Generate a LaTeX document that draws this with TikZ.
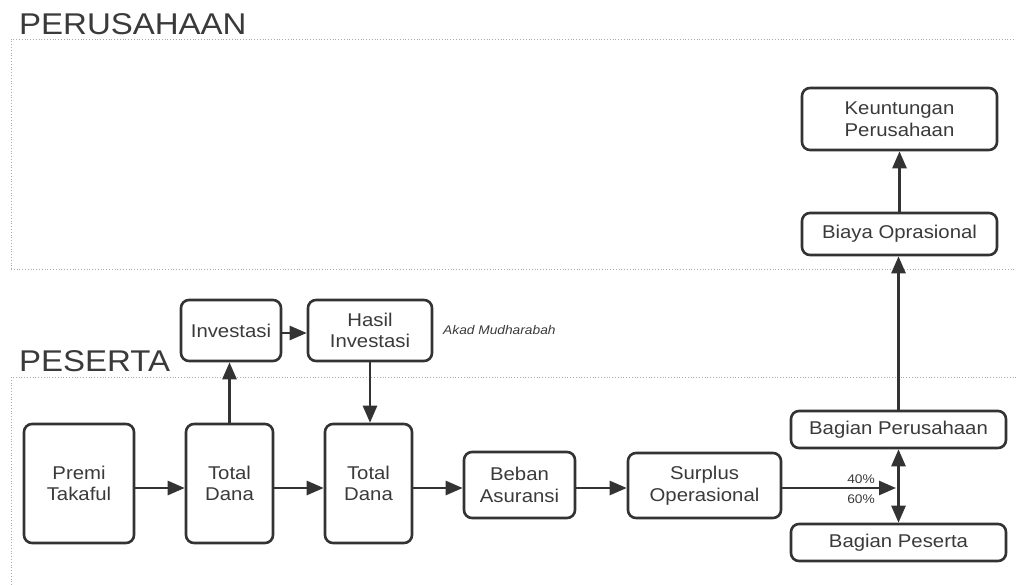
\documentclass[tikz,border=0pt]{standalone}
\usepackage{fontspec}
\setmainfont[FakeStretch=1.1]{Liberation Sans}
\usetikzlibrary{arrows.meta,calc}
\definecolor{ink}{HTML}{333333}
\definecolor{txt}{HTML}{3A3A3A}
\definecolor{dotc}{HTML}{AAAAAA}
\tikzset{
  box/.style={draw=ink, line width=2.6pt, rounded corners=8pt, align=center,
    text=txt, inner sep=2pt, font=\fontsize{18.5}{21.5}\selectfont},
  flow/.style={draw=ink, line width=2.6pt, -{Triangle[length=17pt,width=14pt]}},
  both/.style={draw=ink, line width=2.6pt, {Triangle[length=17pt,width=14pt]}-{Triangle[length=17pt,width=14pt]}},
  dotline/.style={draw=dotc, line width=0.8pt, dash pattern=on 0.8pt off 2pt},
  title/.style={text=txt, inner sep=0pt, anchor=base west, font=\fontsize{30}{36}\selectfont},
  small/.style={text=txt, inner sep=0pt, font=\fontsize{12.5}{15}\selectfont}
}
\begin{document}
\begin{tikzpicture}[x=1pt,y=-1pt]
\useasboundingbox (0,0) rectangle (1016,585);
% zones
\draw[dotline] (11,269) -- (11,39) -- (1016,39);
\draw[dotline] (11,269) -- (1016,269);
\draw[dotline] (11,585) -- (11,377) -- (1016,377);
\node[title] (tper) at (19,35) {PERUSAHAAN};
\node[title] (tpes) at (19,371) {PESERTA};
% nodes
\node[box, minimum width=110pt, minimum height=119pt] (premi) at (79,483.5) {Premi\\Takaful};
\node[box, minimum width=87pt, minimum height=119pt] (td1) at (229.5,483.5) {Total\\Dana};
\node[box, minimum width=87pt, minimum height=119pt] (td2) at (368.5,483.5) {Total\\Dana};
\node[box, minimum width=100pt, minimum height=61pt] (inv) at (231,330.5) {Investasi};
\node[box, minimum width=124pt, minimum height=61pt] (hasil) at (370,330.5) {Hasil\\Investasi};
\node[box, minimum width=111pt, minimum height=66pt] (beban) at (519.5,485) {Beban\\Asuransi};
\node[box, minimum width=153pt, minimum height=65pt] (surplus) at (704.5,485.5) {Surplus\\Operasional};
\node[box, minimum width=215pt, minimum height=37pt] (bper) at (898.5,429.5) {Bagian Perusahaan};
\node[box, minimum width=215pt, minimum height=37pt] (bpes) at (898.5,542.5) {Bagian Peserta};
\node[box, minimum width=195pt, minimum height=42pt] (biaya) at (899.5,234) {Biaya Oprasional};
\node[box, minimum width=195pt, minimum height=62pt] (keunt) at (899.5,119) {Keuntungan\\Perusahaan};
% labels
\node[small, anchor=west] (akad) at (443,330) {\itshape Akad Mudharabah};
\node[small] (p40) at (861,479) {40\%};
\node[small] (p60) at (861,499) {60\%};
% helper coordinates
\coordinate (flowy) at (0,488);
\coordinate (junc) at (896,488);
% connectors
\draw[flow] (premi.east |- flowy) -- (td1.west |- flowy);
\draw[flow] (td1.east |- flowy) -- (td2.west |- flowy);
\draw[flow] (td2.east |- flowy) -- (beban.west |- flowy);
\draw[flow] (beban.east |- flowy) -- (surplus.west |- flowy);
\draw[flow] (surplus.east |- flowy) -- (junc);
\draw[flow] (td1.north) -- (td1.north |- inv.south);
\draw[flow] ([yshift=-2.5pt]inv.east) -- ([yshift=-2.5pt]inv.east -| hasil.west);
\draw[flow] (hasil.south) -- (hasil.south |- td2.north);
\draw[both] (bper.south) -- (bper.south |- bpes.north);
\draw[flow] (bper.north) -- (bper.north |- biaya.south);
\draw[flow] (biaya.north) -- (keunt.south);
\end{tikzpicture}
\end{document}
